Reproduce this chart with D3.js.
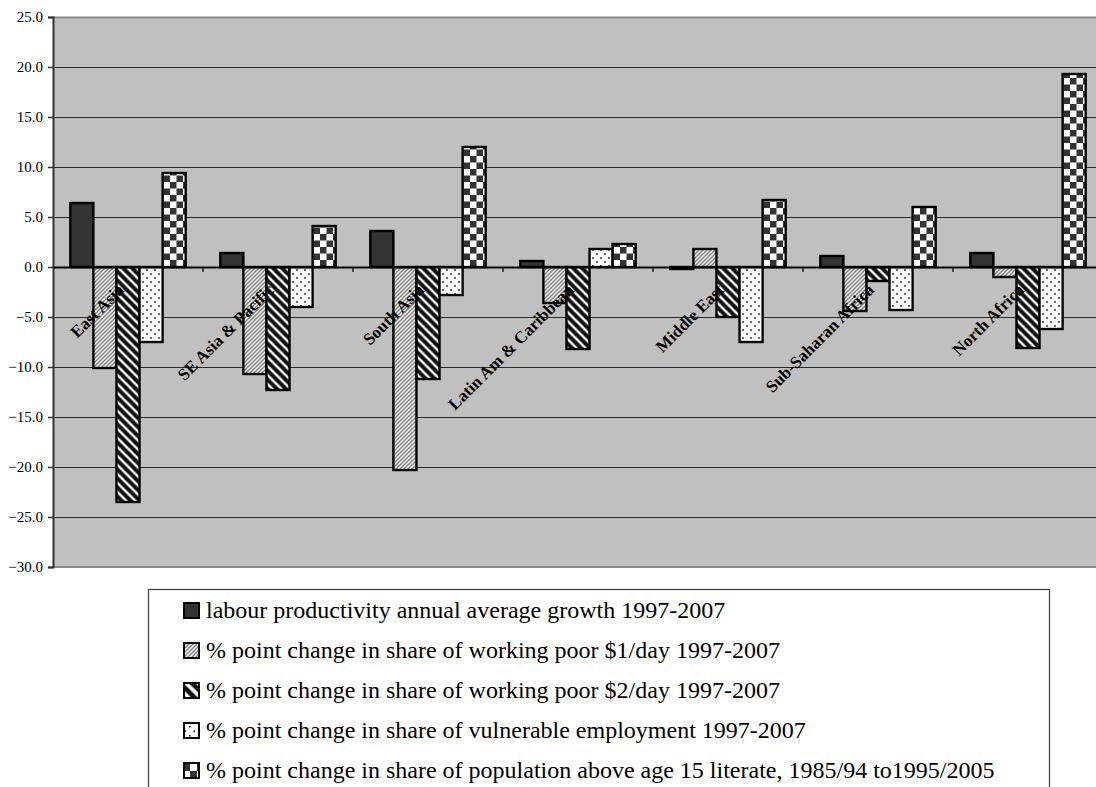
<!DOCTYPE html>
<html>
<head>
<meta charset="utf-8">
<script src="https://cdn.jsdelivr.net/npm/d3@7"></script>
<style>
  html, body { margin: 0; padding: 0; background: #ffffff; }
  svg { display: block; }
  svg text { font-family: "Liberation Serif", "Times New Roman", Times, serif; }
</style>
</head>
<body>
<svg id="chart" width="1096" height="787"></svg>
<script>
// Regions on the category axis
const regions = ["East Asia", "SE Asia & Pacific", "South Asia", "Latin Am & Caribbean",
                 "Middle East", "Sub-Saharan Africa", "North Africa"];

// One array per indicator, in region order
const productivityGrowth = [6.4, 1.4, 3.6, 0.6, -0.2, 1.1, 1.4];
const workingPoor1       = [-10.1, -10.7, -20.3, -3.6, 1.8, -4.4, -1.0];
const workingPoor2       = [-23.5, -12.3, -11.2, -8.2, -5.0, -1.4, -8.1];
const vulnerableEmp      = [-7.5, -4.0, -2.8, 1.8, -7.5, -4.3, -6.2];
const literacyChange     = [9.4, 4.1, 12.0, 2.3, 6.7, 6.0, 19.3];

const seriesNames = [
  "labour productivity annual average growth 1997-2007",
  "% point change in share of working poor $1/day 1997-2007",
  "% point change in share of working poor $2/day 1997-2007",
  "% point change in share of vulnerable employment 1997-2007",
  "% point change in share of population above age 15 literate, 1985/94 to1995/2005"
];
const seriesValues = [productivityGrowth, workingPoor1, workingPoor2, vulnerableEmp, literacyChange];

const yTicks = [25, 20, 15, 10, 5, 0, -5, -10, -15, -20, -25, -30];

const serif = '"Liberation Serif", "Times New Roman", Times, serif';
const svg = d3.select("#chart");
const defs = svg.append("defs");

// ---- fill patterns ----
function upDiag(id, size) {
  const p = defs.append("pattern").attr("id", id).attr("patternUnits", "userSpaceOnUse")
    .attr("width", size).attr("height", size);
  p.append("rect").attr("width", size).attr("height", size).attr("fill", "#ffffff");
  const g = p.append("g").attr("stroke", "#7a7a7a").attr("stroke-width", 1.4);
  g.append("line").attr("x1", -1).attr("y1", size + 1).attr("x2", size + 1).attr("y2", -1);
  g.append("line").attr("x1", -1).attr("y1", 1).attr("x2", 1).attr("y2", -1);
  g.append("line").attr("x1", size - 1).attr("y1", size + 1).attr("x2", size + 1).attr("y2", size - 1);
}
function downDiag(id, size, w) {
  const p = defs.append("pattern").attr("id", id).attr("patternUnits", "userSpaceOnUse")
    .attr("width", size).attr("height", size);
  p.append("rect").attr("width", size).attr("height", size).attr("fill", "#ffffff");
  [["#8a8a8a", w + 1.6], ["#111111", w]].forEach(([c, sw]) => {
    const g = p.append("g").attr("stroke", c).attr("stroke-width", sw);
    g.append("line").attr("x1", -1).attr("y1", -1).attr("x2", size + 1).attr("y2", size + 1);
    g.append("line").attr("x1", size - 2).attr("y1", -2).attr("x2", size + 2).attr("y2", 2);
    g.append("line").attr("x1", -2).attr("y1", size - 2).attr("x2", 2).attr("y2", size + 2);
  });
}
function dots(id, size, r) {
  const p = defs.append("pattern").attr("id", id).attr("patternUnits", "userSpaceOnUse")
    .attr("width", size).attr("height", size);
  p.append("rect").attr("width", size).attr("height", size).attr("fill", "#ffffff");
  [[size * 0.25, size * 0.25], [size * 0.75, size * 0.75]].forEach(([cx, cy]) =>
    p.append("circle").attr("cx", cx).attr("cy", cy).attr("r", r).attr("fill", "#222222"));
}
function checker(id, cell) {
  const p = defs.append("pattern").attr("id", id).attr("patternUnits", "userSpaceOnUse")
    .attr("width", cell * 2).attr("height", cell * 2);
  p.append("rect").attr("width", cell * 2).attr("height", cell * 2).attr("fill", "#ffffff");
  p.append("rect").attr("x", 0).attr("y", 0).attr("width", cell).attr("height", cell).attr("fill", "#333333");
  p.append("rect").attr("x", cell).attr("y", cell).attr("width", cell).attr("height", cell).attr("fill", "#333333");
}

upDiag("p-up", 4);
downDiag("p-down", 9, 3.2);
dots("p-dots", 8, 0.9);
checker("p-check", 6.5);
upDiag("p-up-s", 4);
downDiag("p-down-s", 12, 4);
dots("p-dots-s", 9, 0.9);
checker("p-check-s", 7);

const fills = ["#333333", "url(#p-up)", "url(#p-down)", "url(#p-dots)", "url(#p-check)"];
const swatchFills = ["#333333", "url(#p-up-s)", "url(#p-down-s)", "url(#p-dots-s)", "url(#p-check-s)"];

// ---- scales ----
const plotLeft = 53, catWidth = 150, plotTop = 17, plotBottom = 567;
const plotRight = plotLeft + catWidth * regions.length;

const x0 = d3.scaleBand().domain(regions).range([plotLeft, plotRight]).padding(0);
const x1 = d3.scaleBand().domain(d3.range(seriesValues.length))
  .range([0, x0.bandwidth()]).paddingInner(0).paddingOuter(0.75);
const y = d3.scaleLinear().domain([-30, 25]).range([plotBottom, plotTop]);

// plot background
svg.append("rect").attr("x", plotLeft).attr("y", plotTop)
  .attr("width", plotRight - plotLeft).attr("height", plotBottom - plotTop)
  .attr("fill", "#c0c0c0");

// gridlines
svg.append("g").selectAll("line").data(yTicks.filter(t => t !== 25 && t !== -30)).join("line")
  .attr("x1", plotLeft).attr("x2", plotRight)
  .attr("y1", d => y(d) + 0.5).attr("y2", d => y(d) + 0.5)
  .attr("stroke", "#2a2a2a").attr("stroke-width", 1.2);

// plot border top / bottom
svg.append("line").attr("x1", plotLeft).attr("x2", plotRight)
  .attr("y1", plotTop + 0.5).attr("y2", plotTop + 0.5).attr("stroke", "#8a8a8a").attr("stroke-width", 2);
svg.append("line").attr("x1", plotLeft).attr("x2", plotRight)
  .attr("y1", plotBottom).attr("y2", plotBottom).attr("stroke", "#8a8a8a").attr("stroke-width", 2);

// y axis
const yAxis = d3.axisLeft(y).tickValues(yTicks).tickSize(5).tickPadding(5)
  .tickFormat(d3.format(".1f"));
const gy = svg.append("g").attr("transform", `translate(${plotLeft},0)`).call(yAxis)
  .attr("font-family", serif).attr("font-size", 15);
gy.select(".domain").attr("stroke", "#333333").attr("stroke-width", 2);
gy.selectAll(".tick line").attr("stroke", "#333333").attr("stroke-width", 1.5);
gy.selectAll(".tick text")
  .style("font-family", serif)
  .style("font-size", "15px").attr("fill", "#000000");

// bars
const groups = svg.append("g").selectAll("g").data(regions).join("g")
  .attr("transform", d => `translate(${x0(d)},0)`);
groups.selectAll("rect")
  .data((region, i) => seriesValues.map((vals, s) => ({ s, v: vals[i] })))
  .join("rect")
  .attr("x", d => x1(d.s))
  .attr("width", x1.bandwidth())
  .attr("y", d => y(Math.max(0, d.v)))
  .attr("height", d => Math.abs(y(d.v) - y(0)))
  .attr("fill", d => fills[d.s])
  .attr("stroke", "#000000").attr("stroke-width", 2.4);

// zero axis with category ticks
const xAxis = d3.axisBottom(x0).tickSize(0).tickFormat("");
const gx = svg.append("g").attr("transform", `translate(0,${y(0)})`).call(xAxis);
gx.select(".domain").attr("stroke", "#000000").attr("stroke-width", 2);
svg.append("g").selectAll("line").data(regions.slice(1)).join("line")
  .attr("x1", d => x0(d)).attr("x2", d => x0(d))
  .attr("y1", y(0)).attr("y2", y(0) + 5)
  .attr("stroke", "#000000").attr("stroke-width", 1.2);

// category labels, rotated along the zero line
svg.append("g").selectAll("text").data(regions).join("text")
  .attr("transform", d => `translate(${x0(d) + x0.bandwidth() / 2 - 3},${y(0) + 24}) rotate(-45)`)
  .attr("text-anchor", "end")
  .style("font-family", serif)
  .style("font-weight", "bold").style("font-size", "17px")
  .attr("fill", "#000000")
  .text(d => d);

// legend
const legend = svg.append("g");
legend.append("rect").attr("x", 148.5).attr("y", 589.5).attr("width", 901).attr("height", 230)
  .attr("fill", "#ffffff").attr("stroke", "#444444").attr("stroke-width", 1.3);
const items = legend.selectAll("g.item").data(seriesNames).join("g").attr("class", "item")
  .attr("transform", (d, i) => `translate(183,${618 + i * 40})`);
items.append("rect").attr("x", 1).attr("y", -15).attr("width", 15).attr("height", 15)
  .attr("fill", (d, i) => swatchFills[i]).attr("stroke", "#000000").attr("stroke-width", 2);
items.append("text").attr("x", 23).attr("y", 0)
  .style("font-family", serif)
  .style("font-size", "24px").attr("fill", "#000000")
  .text(d => d);
</script>
</body>
</html>
